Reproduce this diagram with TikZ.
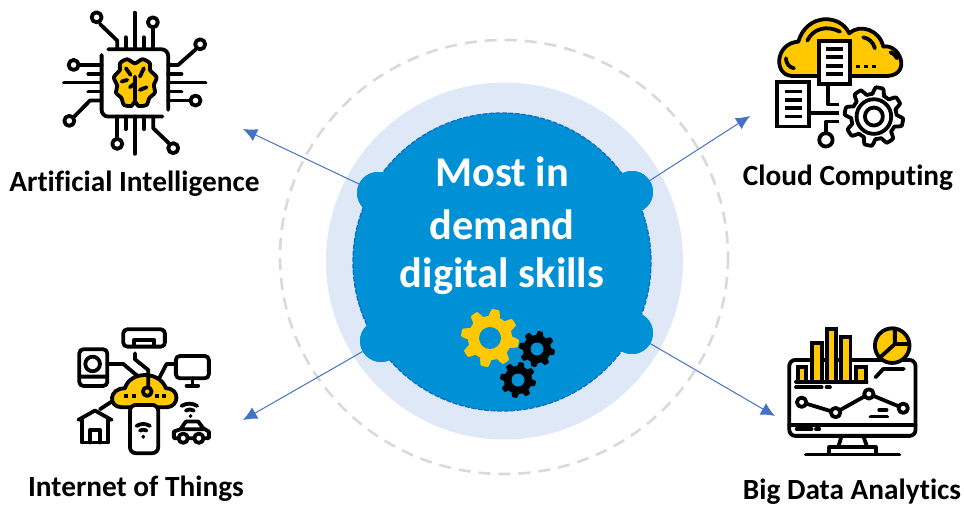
\documentclass[tikz,border=0pt]{standalone}
\usepackage{fontspec}
\setmainfont[Ligatures={NoCommon}]{Carlito}
\definecolor{hubblue}{HTML}{0090D6}
\definecolor{hubedge}{HTML}{0B6FC4}
\definecolor{haloblue}{HTML}{DEE8F6}
\definecolor{ringgray}{HTML}{D9D9D9}
\definecolor{arrowblue}{HTML}{4472C4}
\definecolor{iconyellow}{HTML}{FFC800}
\tikzset{
  hubtext/.style={text=white, font=\fontsize{42.4}{48}\selectfont\bfseries},
  skilltext/.style={text=black, inner sep=0pt, font=\fontsize{29.3}{34}\selectfont\bfseries},
  blob/.style={circle, fill=hubblue, inner sep=0pt, minimum size=42pt},
  linkarrow/.style={-{Latex[length=14pt,width=13pt]}, arrowblue, line width=1pt},
  ico/.style={line width=3.8pt, line cap=round, line join=round, black},
  pin/.style={ico, fill=white},
  icofill/.style={ico, fill=iconyellow}
}
\usetikzlibrary{arrows.meta}
% r, tooth depth, number of teeth
\newcommand{\gearshape}[5]{plot[domain=0:360,samples=181,variable=\t]
  ({#1+(#3+#4*max(-1,min(1,2*sin(#5*\t))))*cos(\t)},{#2+(#3+#4*max(-1,min(1,2*sin(#5*\t))))*sin(\t)}) -- cycle}
\begin{document}
\begin{tikzpicture}[x=1pt, y=-1pt]
  \useasboundingbox (0, 0) rectangle (964, 506);

  \draw[ringgray, line width=2.6pt, dash pattern=on 12pt off 8pt] (504, 257) ellipse (224 and 217);
  \fill[haloblue] (504.5, 261) circle (178.5);
  \filldraw[fill=hubblue, draw=hubedge, line width=1.3pt, dash pattern=on 5pt off 1.5pt] (502, 262) circle (149);

  \node[blob] (blobTL) at (378, 193) {};
  \node[blob] (blobTR) at (632, 192) {};
  \node[blob] (blobBL) at (381, 341) {};
  \node[blob] (blobBR) at (632, 333) {};

  \node[hubtext] (most) at (502, 172) {Most in};
  \node[hubtext] (demand) at (502, 225) {demand};
  \node[hubtext] (digital) at (502, 276) {digital skills};

  \coordinate (tipTL) at (243, 129);
  \coordinate (tipTR) at (750, 116);
  \coordinate (tipBL) at (243, 420);
  \coordinate (tipBR) at (775, 416);
  \draw[linkarrow] (blobTL) -- (tipTL);
  \draw[linkarrow] (blobTR) -- (tipTR);
  \draw[linkarrow] (blobBL) -- (tipBL);
  \draw[linkarrow] (blobBR) -- (tipBR);
  \fill[hubblue] (blobTL) circle (21) (blobTR) circle (21) (blobBL) circle (21) (blobBR) circle (21);

  \node[skilltext] (ai) at (134.5, 184) {Artificial Intelligence};
  \node[skilltext] (cloud) at (848, 178) {Cloud Computing};
  \node[skilltext] (iot) at (136, 489) {Internet of Things};
  \node[skilltext] (bigdata) at (852, 491.5) {Big Data Analytics};

  % gears in the hub
  \fill[iconyellow] \gearshape{490}{338}{25.5}{3.5}{8};
  \fill[hubblue] (490, 338) circle (11);
  \fill[black] \gearshape{537}{349}{16}{2}{8};
  \fill[hubblue] (537, 349) circle (6.5);
  \fill[black] \gearshape{518}{380}{16}{2}{8};
  \fill[hubblue] (518, 380) circle (6.5);

  % chip
  \begin{scope}[shift={(40, 0)}, x=0.333pt, y=-0.333pt]
    \draw[ico] (205, 148) -- (365, 148) to[out=0, in=90] (385, 168) -- (385, 330);
    \draw[ico] (185, 165) -- (185, 330) to[out=-90, in=180] (205, 350) -- (368, 350);
    \draw[ico] (285, 38) -- (285, 148) (258, 112) -- (258, 148) (312, 112) -- (312, 148);
    \draw[ico] (232, 148) -- (232, 122) -- (180, 72);
    \draw[ico] (340, 148) -- (340, 82);
    \draw[ico] (385, 195) -- (415, 195) -- (468, 148);
    \draw[ico] (385, 222) -- (425, 222) (385, 248) -- (497, 248) (385, 275) -- (425, 275) (385, 302) -- (452, 302);
    \draw[ico] (185, 195) -- (118, 195) (145, 222) -- (185, 222) (72, 248) -- (185, 248) (145, 275) -- (185, 275);
    \draw[ico] (185, 302) -- (150, 302) -- (103, 350);
    \draw[ico] (232, 350) -- (232, 415) (258, 350) -- (258, 388) (285, 350) -- (285, 462) (312, 350) -- (312, 388);
    \draw[ico] (340, 350) -- (340, 385) -- (387, 430);
    \foreach \px/\py in {170/52, 339/67, 481/133, 467/302, 101/195, 88/363, 232/432, 400/445}
      \draw[pin] (\px, \py) circle (15);
    \draw[icofill] plot[smooth cycle] coordinates {(285, 190) (262, 178) (240, 190) (240, 210) (222, 232) (232, 258) (228, 278) (245, 295) (252, 315) (275, 318) (285, 305) (295, 318) (320, 315) (328, 295) (345, 278) (342, 255) (350, 232) (330, 210) (330, 190) (308, 178)};
    \draw[ico] (285, 230) -- (285, 300) (285, 250) -- (270, 262) (258, 205) -- (272, 225) (312, 205) -- (300, 230) (320, 262) -- (300, 270) (245, 245) -- (262, 240);
  \end{scope}

  % cloud and documents
  \begin{scope}[shift={(760, 0)}, x=0.333pt, y=-0.333pt]
    \draw[icofill] (270, 228) -- (95, 228) .. controls (40, 225) and (45, 130) .. (115, 125) .. controls (140, 40) and (240, 40) .. (268, 100) .. controls (300, 70) and (360, 90) .. (370, 140) .. controls (420, 130) and (455, 222) .. (385, 228) -- cycle;
    \draw[ico] (142, 122) .. controls (160, 85) and (200, 75) .. (240, 95);
    \draw[ico] (310, 112) .. controls (325, 115) and (340, 125) .. (345, 145);
    \draw[ico] (392, 157) .. controls (400, 160) and (408, 166) .. (411, 175);
    \draw[ico] (78, 175) .. controls (78, 190) and (88, 203) .. (102, 205);
    \draw[ico, fill=white, line cap=butt, line join=miter] (178, 122) rectangle (270, 252);
    \draw[ico, line cap=butt, fill=white, line join=miter] (52, 247) rectangle (147, 380);
    \foreach \py in {148, 172, 197, 222}
      \draw[ico, line cap=butt] (198, \py) -- (250, \py);
    \foreach \py in {275, 300, 325, 350}
      \draw[ico, line cap=butt] (75, \py) -- (125, \py);
    \draw[ico, line cap=butt] (288, 200) -- (300, 200) (313, 200) -- (325, 200) (337, 200) -- (349, 200);
    \draw[ico, line cap=butt] (205, 252) -- (205, 314) -- (236, 314) (147, 340) -- (236, 340) (236, 365) -- (198, 365) -- (198, 398);
    \draw[pin] (198, 420) circle (20);
    \draw[pin] \gearshape{342}{350}{78}{10}{8};
    \draw[ico] (342, 350) circle (52) (342, 350) circle (27);
  \end{scope}

  % things
  \begin{scope}[shift={(60, 320)}, x=0.333pt, y=-0.333pt]
    \draw[ico, rounded corners=4pt] (190, 28) rectangle (315, 80);
    \draw[ico] (222, 78) -- (222, 60) -- (283, 60) -- (283, 78);
    \draw[ico, rounded corners=4pt] (58, 88) rectangle (142, 198);
    \draw[ico] (98, 132) circle (22) (58, 170) -- (142, 170);
    \draw[ico, rounded corners=4pt] (348, 108) rectangle (447, 175);
    \draw[ico] (398, 175) -- (398, 195) (380, 197) -- (415, 197);
    \draw[ico] (142, 132) -- (190, 132) -- (235, 170) (345, 132) -- (320, 132) -- (295, 180);
    \draw[icofill] (300, 262) -- (185, 262) .. controls (145, 262) and (145, 205) .. (195, 205) .. controls (210, 152) and (300, 152) .. (318, 205) .. controls (362, 205) and (358, 262) .. (320, 262) -- cycle;
    \draw[ico] (225, 100) -- (225, 118) -- (265, 150) -- (265, 200);
    \draw[ico, fill=iconyellow] (262, 215) circle (13);
    \draw[ico, line cap=butt] (192, 228) -- (204, 228) (216, 228) -- (228, 228) (284, 228) -- (296, 228) (306, 228) -- (318, 228);
    \draw[pin, rounded corners=6pt] (210, 255) rectangle (295, 400);
    \draw[ico] (230, 318) to[bend left=30] (270, 318) (240, 332) to[bend left=30] (260, 332) (250, 350) -- (250, 351);
    \draw[ico] (55, 300) -- (105, 272) -- (155, 300);
    \draw[ico] (65, 300) -- (65, 368) -- (145, 368) -- (145, 300) (90, 368) -- (90, 330) -- (120, 330) -- (120, 368);
    \draw[ico] (120, 268) -- (155, 245);
    \draw[ico] (355, 355) -- (342, 355) -- (342, 335) -- (362, 328) -- (378, 305) -- (415, 305) -- (430, 325) -- (447, 335) -- (447, 355) -- (432, 355) (385, 355) -- (402, 355) (362, 328) -- (430, 328);
    \draw[ico] (370, 355) circle (14) (417, 355) circle (14);
    \draw[ico] (365, 258) to[bend left=30] (412, 258) (378, 272) to[bend left=30] (402, 272) (392, 288) -- (392, 289);
  \end{scope}

  % monitor and charts
  \begin{scope}[shift={(770, 320)}, x=0.333pt, y=-0.333pt]
    \draw[ico, rounded corners=6pt] (58, 120) rectangle (437, 348);
    \draw[ico] (58, 315) -- (437, 315);
    \draw[ico] (215, 348) -- (205, 382) (280, 348) -- (292, 382);
    \draw[ico] (178, 398) -- (178, 382) -- (318, 382) -- (318, 398) (108, 404) -- (388, 404);
    \foreach \xa/\xb/\yt in {83/108/140, 127/155/70, 170/198/28, 213/242/52, 258/288/140}
      \draw[icofill, line join=miter] (\xa, 185) rectangle (\xb, \yt);
    \draw[ico] (78, 185) -- (290, 185);
    \draw[icofill] (367, 77) circle (52);
    \draw[ico] (375, 25) -- (375, 72) -- (418, 72) (375, 72) -- (333, 110);
    \draw[ico] (78, 202) -- (155, 202) (170, 202) -- (180, 202);
    \draw[ico] (317, 172) -- (340, 147) -- (402, 147);
    \draw[ico] (95, 247) -- (197, 278) -- (297, 222) -- (400, 265);
    \foreach \px/\py in {95/247, 197/278, 297/222, 400/265}
      \draw[pin] (\px, \py) circle (14);
    \draw[ico] (328, 270) -- (350, 270) (302, 290) -- (352, 290);
    \draw[ico] (80, 327) -- (125, 327) (138, 327) -- (148, 327);
  \end{scope}
\end{tikzpicture}
\end{document}
